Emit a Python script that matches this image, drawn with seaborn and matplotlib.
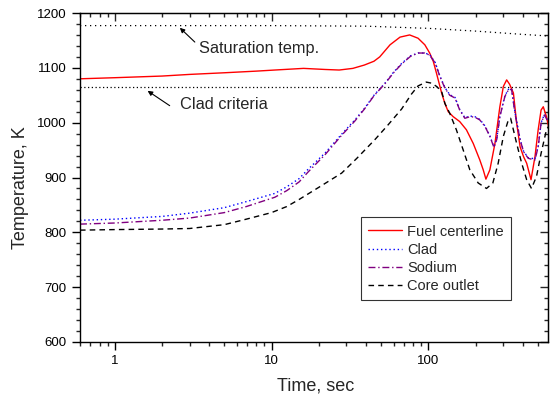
import numpy as np
import pandas as pd
import matplotlib
matplotlib.use("Agg")
import matplotlib.pyplot as plt
from matplotlib.ticker import MultipleLocator, LogLocator, NullFormatter, FixedLocator, FixedFormatter
import seaborn as sns

# ---------------- data ----------------
fuel_t = [0.6, 1, 2, 3, 5, 8, 10.5, 16, 22, 27, 33, 39, 45, 49, 57, 66, 76, 86, 95, 102, 107.5,
          112.8, 118.6, 121.6, 127.6, 134, 144, 158.6, 175, 193.5, 213, 224, 233, 247, 266, 286,
          301, 316, 330, 349, 366, 385, 405, 424, 452, 479, 502, 524, 541, 567, 590]
fuel_T = [1080, 1082, 1085, 1088, 1091, 1094, 1096, 1099, 1097, 1096, 1099, 1105, 1112, 1120, 1142,
          1156, 1160, 1154, 1142, 1127, 1112, 1090, 1066, 1054, 1035, 1020, 1011, 1002, 987, 962,
          932, 914, 897, 914, 962, 1029, 1066, 1078, 1070, 1054, 999, 956, 938, 926, 896, 938, 987,
          1023, 1029, 1011, 987]

clad_t = [0.6, 1, 2, 3, 5, 6.9, 10.5, 12.5, 15, 17.1, 22, 28, 34, 39.4, 45, 52.9, 60, 67.6, 77, 86.3,
          95, 102, 110.5, 118.6, 127.6, 137, 148, 158.6, 171, 185, 198, 213, 230, 247, 262, 273, 286,
          308, 326, 340, 357, 385, 405, 434, 460, 479, 502, 524, 550, 580]
clad_T = [822, 824, 829, 835, 845, 856, 871, 883, 898, 915, 945, 979, 1005, 1027, 1050, 1072, 1092,
          1108, 1122, 1127, 1127, 1124, 1110, 1085, 1064, 1051, 1046, 1024, 1009, 1012, 1011, 1006,
          994, 976, 956, 970, 1012, 1049, 1062, 1061, 1019, 970, 948, 936, 935, 933, 957, 1000, 1015,
          1003]

sodium_t = clad_t
sodium_T = [815, 817, 822, 826, 836, 847, 864, 876, 892, 910, 942, 977, 1003, 1026, 1049, 1071, 1091,
            1107, 1121, 1127, 1127, 1123, 1109, 1084, 1063, 1050, 1045, 1023, 1008, 1011, 1010, 1005,
            993, 975, 955, 969, 1011, 1048, 1061, 1060, 1017, 969, 947, 935, 933, 932, 956, 999, 1014,
            1002]

core_t = [0.6, 1, 2, 3, 5, 6.9, 10, 12.5, 15, 20, 28, 35, 45.6, 55, 67.6, 78, 86, 97, 105, 113, 121.6,
          127.6, 137, 151, 167, 184, 208, 235, 258, 279, 301, 324, 335, 366, 394, 424, 455, 490, 524,
          567, 590]
core_T = [804, 805, 806, 807, 814, 824, 836, 847, 860, 882, 908, 935, 969, 995, 1025, 1052, 1067, 1074,
          1072, 1066, 1057, 1035, 1017, 987, 950, 914, 890, 880, 890, 926, 975, 1005, 1008, 962, 926,
          896, 880, 902, 944, 987, 995]

sat_t = [0.6, 10, 40, 100, 200, 400, 590]
sat_T = [1177, 1177, 1176, 1172, 1167, 1161, 1158]

crit_t = [0.6, 590]
crit_T = [1065, 1065]

series_names = ["Fuel centerline", "Clad", "Sodium", "Core outlet"]

# ---------------- style ----------------
sns.set_style("ticks")
plt.rcParams['font.family'] = ['Liberation Sans', 'DejaVu Sans']

fig = plt.figure(figsize=(5.5, 4.03), dpi=100)
ax = fig.add_axes([80/550, 61/403, 468/550, 329/403])

sns.lineplot(x=sat_t, y=sat_T, ax=ax, color="black", linestyle=(0, (1, 3)), lw=0.9)
sns.lineplot(x=crit_t, y=crit_T, ax=ax, color="black", linestyle=(0, (1, 2)), lw=0.9)

sns.lineplot(x=fuel_t, y=fuel_T, ax=ax, color="#ff0000", linestyle="-", lw=1.0,
             label=series_names[0])
sns.lineplot(x=clad_t, y=clad_T, ax=ax, color="#0000ff", linestyle=(0, (1, 2)), lw=1.0,
             label=series_names[1])
sns.lineplot(x=sodium_t, y=sodium_T, ax=ax, color="#800080", linestyle=(0, (5, 2, 1, 2)), lw=1.0,
             label=series_names[2])
sns.lineplot(x=core_t, y=core_T, ax=ax, color="black", linestyle=(0, (4, 3)), lw=1.0,
             label=series_names[3])

ax.set_xscale("log")
ax.set_xlim(0.6, 580)
ax.set_ylim(600, 1200)

ax.xaxis.set_major_locator(FixedLocator([1, 10, 100]))
ax.xaxis.set_major_formatter(FixedFormatter(["1", "10", "100"]))
ax.xaxis.set_minor_locator(LogLocator(base=10, subs=np.arange(2, 10), numticks=20))
ax.xaxis.set_minor_formatter(NullFormatter())
ax.yaxis.set_major_locator(MultipleLocator(100))
ax.yaxis.set_minor_locator(MultipleLocator(20))

ax.tick_params(which="major", direction="out", length=6, width=1, labelsize=9.5, colors="black")
ax.tick_params(which="minor", direction="out", length=3.2, width=1)
for s in ax.spines.values():
    s.set_linewidth(1.0)
    s.set_color("black")

secx = ax.secondary_xaxis("top")
secx.xaxis.set_major_locator(FixedLocator([1, 10, 100]))
secx.xaxis.set_minor_locator(LogLocator(base=10, subs=np.arange(2, 10), numticks=20))
secx.tick_params(which="major", direction="in", length=5.5, width=1, labeltop=False)
secx.tick_params(which="minor", direction="in", length=3.2, width=1)
secx.xaxis.set_major_formatter(NullFormatter())
secx.xaxis.set_minor_formatter(NullFormatter())

secy = ax.secondary_yaxis("right")
secy.yaxis.set_major_locator(MultipleLocator(100))
secy.yaxis.set_minor_locator(MultipleLocator(20))
secy.tick_params(which="major", direction="in", length=5.5, width=1, labelright=False)
secy.tick_params(which="minor", direction="in", length=3.2, width=1)
secy.yaxis.set_major_formatter(NullFormatter())

ax.set_xlabel("Time, sec", fontsize=13)
ax.set_ylabel("Temperature, K", fontsize=13)
ax.xaxis.set_label_coords(0.504, -0.108)
ax.yaxis.set_label_coords(-0.108, 0.468)

ax.annotate("", xy=(2.60, 1173), xytext=(3.24, 1147),
            arrowprops=dict(arrowstyle="-|>", color="black", lw=0.8, mutation_scale=7,
                            shrinkA=0, shrinkB=0))
ax.text(3.44, 1136, "Saturation temp.", fontsize=11.8, va="center", ha="left")
ax.annotate("", xy=(1.62, 1058), xytext=(2.24, 1031),
            arrowprops=dict(arrowstyle="-|>", color="black", lw=0.8, mutation_scale=7,
                            shrinkA=0, shrinkB=0))
ax.text(2.60, 1034, "Clad criteria", fontsize=11.8, va="center", ha="left")

leg = ax.legend(loc="upper left", bbox_to_anchor=(0.60, 0.379), borderaxespad=0,
                fontsize=10.5, frameon=True, fancybox=False, edgecolor="black",
                handlelength=2.3, handletextpad=0.4, labelspacing=0.28, borderpad=0.5)
leg.get_frame().set_linewidth(0.8)

fig.savefig("out.png", dpi=100)
